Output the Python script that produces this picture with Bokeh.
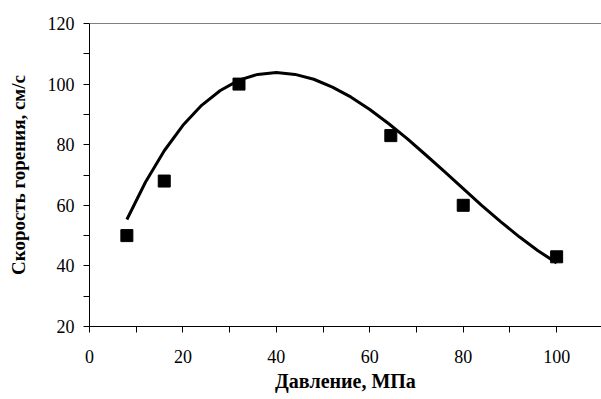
from bokeh.plotting import figure
from bokeh.models import Range1d, Span, FixedTicker
from bokeh.embed import file_html
from bokeh.resources import INLINE

# measured points
pressure = [8, 16, 32, 64.5, 80, 100]
speed = [50, 68, 100, 83, 60, 43]

# fitted curve
curve_x = [8, 12, 16, 20, 24, 28, 32, 36, 40, 44, 48, 52, 56, 60, 64, 68, 72, 76, 80, 84, 88, 92, 96, 100]
curve_y = [55.3, 67.7, 78.0, 86.4, 93.0, 97.9, 101.3, 103.2, 103.8, 103.2, 101.6, 99.0, 95.7, 91.6,
           87.0, 82.0, 76.6, 71.1, 65.5, 59.9, 54.6, 49.6, 45.0, 41.0]

x_ticks = [0, 20, 40, 60, 80, 100]
y_ticks = [20, 40, 60, 80, 100, 120]

FONT = "Liberation Serif"

p = figure(width=601, height=399, output_backend="svg", toolbar_location=None,
           x_range=Range1d(0, 109.6), y_range=Range1d(20, 120),
           min_border_left=89, min_border_right=0, min_border_top=23, min_border_bottom=73)
p.outline_line_color = None
p.background_fill_color = "white"
p.border_fill_color = "white"
p.xgrid.visible = False
p.ygrid.visible = False

p.add_layout(Span(location=120, dimension="width", line_color="black", line_width=1))

p.line(curve_x, curve_y, line_color="black", line_width=3, line_join="round")
p.scatter(pressure, speed, marker="square", size=12, fill_color="black", line_color="black")

for ax, ticks in ((p.xaxis[0], x_ticks), (p.yaxis[0], y_ticks)):
    ax.ticker = FixedTicker(ticks=ticks, minor_ticks=[t + 10 for t in ticks])
    ax.axis_line_color = "black"
    ax.axis_line_width = 1
    ax.major_tick_line_color = "black"
    ax.minor_tick_line_color = "black"
    ax.major_tick_in = 0
    ax.major_tick_out = 6
    ax.minor_tick_in = 0
    ax.minor_tick_out = 6
    ax.major_label_text_font = FONT
    ax.major_label_text_font_size = "18px"
    ax.major_label_text_color = "black"
    ax.axis_label_text_font = FONT
    ax.axis_label_text_font_style = "bold"
    ax.axis_label_text_color = "black"

p.xaxis.axis_label_text_font_size = "20px"
p.yaxis.axis_label_text_font_size = "19px"
p.xaxis.axis_label = "Давление, МПа"
p.yaxis.axis_label = "Скорость горения, см/с"
p.xaxis.major_label_standoff = 17
p.yaxis.major_label_standoff = 9
p.xaxis.axis_label_standoff = 4
p.yaxis.axis_label_standoff = 16

open("out.html", "w").write(file_html(p, INLINE))
